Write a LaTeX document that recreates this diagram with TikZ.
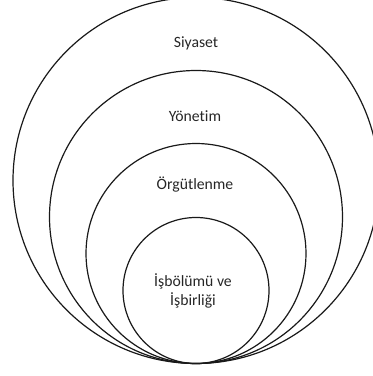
\documentclass[tikz,border=0pt]{standalone}
\usepackage{fontspec}
\setmainfont{Carlito}[RawFeature={-liga;-clig;-dlig}]
\begin{document}
\begin{tikzpicture}[x=1pt,y=-1pt,
  ring/.style={draw=black!90, line width=1.2pt},
  lbl/.style={font=\fontsize{15.7}{18.8}\selectfont, text=black!85, align=center, inner sep=0pt}]
\useasboundingbox (0,0) rectangle (373,376);
\begin{scope}
\clip (0,0) rectangle (373,376);
\draw[ring] (196,180.5) circle[radius=183];
\draw[ring] (196,217) circle[radius=146.5];
\draw[ring] (196,253.5) circle[radius=110];
\draw[ring] (196,290.5) circle[radius=73];
\end{scope}
\node[lbl] (siy) at (196,43) {Siyaset};
\node[lbl] (yon) at (195,116) {Yönet\kern0pt im};
\node[lbl] (org) at (195,185) {Örgütlenme};
\node[lbl] (isb) at (193,291) {İşbölümü ve\\İşbirliği};
\end{tikzpicture}
\end{document}
